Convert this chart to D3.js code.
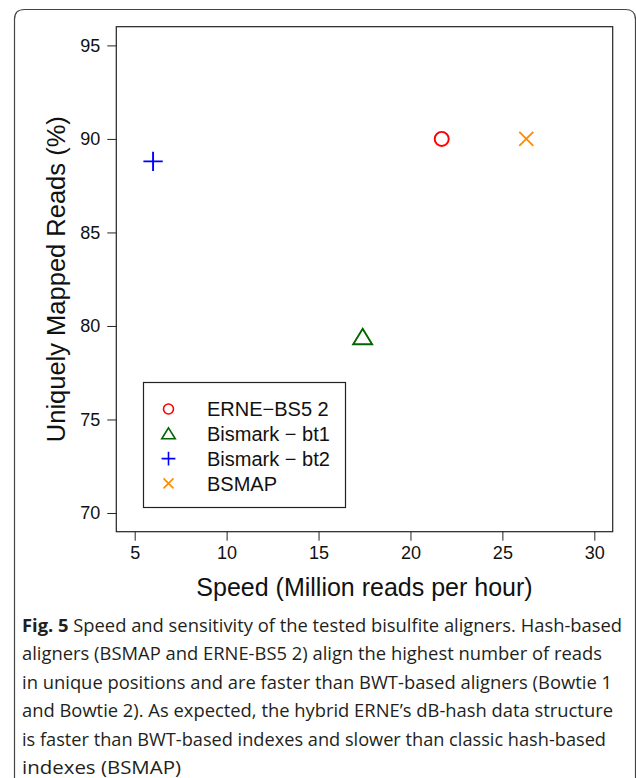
<!DOCTYPE html>
<html>
<head>
<meta charset="utf-8">
<script src="https://cdn.jsdelivr.net/npm/d3@7"></script>
<style>
  html, body { margin: 0; padding: 0; background: #fff; }
  svg text { font-family: "Liberation Sans", Arial, sans-serif; fill: #111; }
  svg .caption { font-family: "Open Sans", "Noto Sans", sans-serif; fill: #231f20; }
</style>
</head>
<body>
<svg id="chart" width="636" height="778"></svg>
<script>
// aligner data
var tools = ["ERNE\u2212BS5 2", "Bismark \u2212 bt1", "Bismark \u2212 bt2", "BSMAP"];
var speed = [21.7, 17.4, 6.0, 26.3];          // million reads per hour
var uniqueMapped = [90.0, 79.4, 88.8, 90.0];  // %
var shapes = ["circle", "triangle", "plus", "cross"];
var colors = ["#ff0000", "#006400", "#0000ff", "#ff8c00"];
var xTicks = [5, 10, 15, 20, 25, 30];
var yTicks = [70, 75, 80, 85, 90, 95];
var captionLines = [
    "Speed and sensitivity of the tested bisulfite aligners. Hash-based",
    "aligners (BSMAP and ERNE-BS5 2) align the highest number of reads",
    "in unique positions and are faster than BWT-based aligners (Bowtie 1",
    "and Bowtie 2). As expected, the hybrid ERNE\u2019s dB-hash data structure",
    "is faster than BWT-based indexes and slower than classic hash-based",
    "indexes (BSMAP)"
];
var captionWidths = [600, 580, 590, 591, 584, 159];

var svg = d3.select("#chart");
var plot = { left: 116.3, right: 612.7, top: 26.7, bottom: 531.7 };

// R style: limits padded by 4%
var x = d3.scaleLinear().domain([4, 31]).range([plot.left, plot.right]);
var y = d3.scaleLinear().domain([69, 96]).range([plot.bottom, plot.top]);

// outer rounded frame (open at the bottom)
svg.append("path")
    .attr("d", "M14.5,790 L14.5,19.5 Q14.5,9.5 24.5,9.5 L625.5,9.5 Q635.5,9.5 635.5,19.5 L635.5,790")
    .attr("fill", "none")
    .attr("stroke", "#444")
    .attr("stroke-width", 1.2);

function marker(shape, cx, cy, s) {
    var p = d3.path();
    if (shape == "circle") {
        p.moveTo(cx + s, cy);
        p.arc(cx, cy, s, 0, 2 * Math.PI);
    } else if (shape == "triangle") {
        var w = s * 1.35;
        p.moveTo(cx, cy - s * 1.2);
        p.lineTo(cx + w, cy + s);
        p.lineTo(cx - w, cy + s);
        p.closePath();
    } else if (shape == "plus") {
        var a = s * 1.38;
        p.moveTo(cx - a, cy); p.lineTo(cx + a, cy);
        p.moveTo(cx, cy - a); p.lineTo(cx, cy + a);
    } else {
        p.moveTo(cx - s, cy - s); p.lineTo(cx + s, cy + s);
        p.moveTo(cx - s, cy + s); p.lineTo(cx + s, cy - s);
    }
    return p.toString();
}

// axes
var gx = svg.append("g")
    .attr("transform", "translate(0," + plot.bottom + ")")
    .call(d3.axisBottom(x).tickValues(xTicks).tickSize(9).tickPadding(6).tickSizeOuter(0));
var gy = svg.append("g")
    .attr("transform", "translate(" + plot.left + ",0)")
    .call(d3.axisLeft(y).tickValues(yTicks).tickSize(9).tickPadding(7).tickSizeOuter(0));
[gx, gy].forEach(function (g) {
    g.select(".domain").remove();
    g.selectAll("line").attr("stroke", "#222").attr("stroke-width", 1);
    g.selectAll("text").attr("font-size", 18).attr("font-family", null).attr("fill", "#111");
});

// plot box
svg.append("rect")
    .attr("x", plot.left).attr("y", plot.top)
    .attr("width", plot.right - plot.left).attr("height", plot.bottom - plot.top)
    .attr("fill", "none").attr("stroke", "#222").attr("stroke-width", 1.2);

// points
svg.append("g").selectAll("path")
    .data(tools)
    .enter()
    .append("path")
    .attr("d", function (d, i) { return marker(shapes[i], x(speed[i]), y(uniqueMapped[i]), 7); })
    .attr("fill", "none")
    .attr("stroke", function (d, i) { return colors[i]; })
    .attr("stroke-width", 1.9);

// axis titles
svg.append("text")
    .attr("x", (plot.left + plot.right) / 2).attr("y", 596)
    .attr("text-anchor", "middle")
    .attr("font-size", 25)
    .text("Speed (Million reads per hour)");
svg.append("text")
    .attr("transform", "translate(65," + (plot.top + plot.bottom) / 2 + ") rotate(-90)")
    .attr("text-anchor", "middle")
    .attr("font-size", 25.5)
    .text("Uniquely Mapped Reads (%)");

// legend
var legend = svg.append("g");
legend.append("rect")
    .attr("x", 143.5).attr("y", 382.5).attr("width", 202).attr("height", 125)
    .attr("fill", "#fff").attr("stroke", "#222").attr("stroke-width", 1.2);
var rows = legend.selectAll(".row")
    .data(tools)
    .enter()
    .append("g")
    .attr("class", "row")
    .attr("transform", function (d, i) { return "translate(0," + (409 + i * 24.8) + ")"; });
rows.append("path")
    .attr("d", function (d, i) { return marker(shapes[i], 168.5, 0, 5); })
    .attr("fill", "none")
    .attr("stroke", function (d, i) { return colors[i]; })
    .attr("stroke-width", 1.6);
rows.append("text")
    .attr("x", 207)
    .attr("dy", "0.36em")
    .attr("font-size", 20)
    .text(function (d) { return d; });

// caption
var cap = svg.append("g");
cap.selectAll("text")
    .data(captionLines)
    .enter()
    .append("text")
    .attr("class", "caption")
    .attr("x", 22)
    .attr("y", function (d, i) { return 632 + i * 28.4; })
    .attr("font-size", 18.5)
    .attr("textLength", function (d, i) { return captionWidths[i]; })
    .attr("lengthAdjust", "spacingAndGlyphs")
    .each(function (d, i) {
        var t = d3.select(this);
        if (i == 0) {
            t.append("tspan").attr("font-weight", "bold").text("Fig. 5 ");
        }
        t.append("tspan").text(d);
    });
</script>
</body>
</html>
